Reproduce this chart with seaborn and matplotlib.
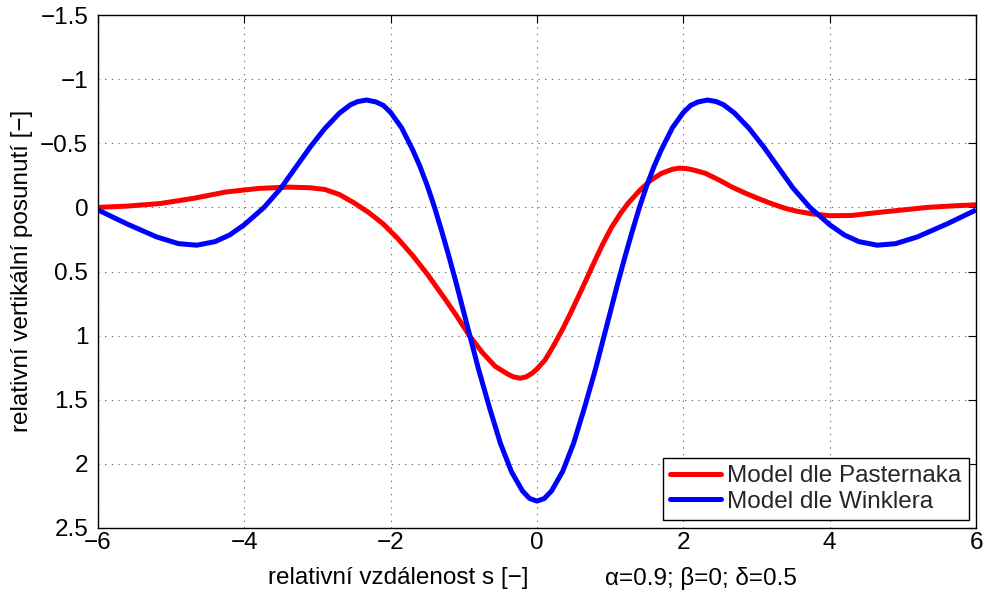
import numpy as np
import pandas as pd
import matplotlib
matplotlib.use("Agg")
import matplotlib.pyplot as plt
import seaborn as sns
from matplotlib.lines import Line2D

# ---- data ----
pasternak_x = [-6.0, -5.6, -5.15, -4.7, -4.25, -3.8, -3.4, -3.1, -2.9, -2.7, -2.5, -2.3,
               -2.1, -1.9, -1.7, -1.5, -1.25, -1.1, -0.93, -0.75, -0.57, -0.4, -0.32, -0.23,
               -0.15, -0.07, 0.0, 0.11, 0.22, 0.34, 0.45, 0.57, 0.7, 0.8, 0.9, 1.02, 1.15,
               1.25, 1.4, 1.55, 1.7, 1.85, 1.95, 2.05, 2.15, 2.3, 2.5, 2.66, 2.85, 3.02, 3.2,
               3.39, 3.55, 3.75, 4.0, 4.3, 4.66, 5.0, 5.34, 5.7, 6.0]
pasternak_y = [0.0, -0.01, -0.03, -0.07, -0.12, -0.148, -0.158, -0.153, -0.14, -0.10, -0.035, 0.04,
               0.13, 0.245, 0.375, 0.52, 0.72, 0.845, 0.995, 1.13, 1.24, 1.30, 1.322, 1.332,
               1.322, 1.295, 1.26, 1.19, 1.085, 0.96, 0.835, 0.69, 0.53, 0.405, 0.285, 0.155, 0.04,
               -0.035, -0.13, -0.21, -0.265, -0.297, -0.306, -0.302, -0.29, -0.266, -0.21, -0.16, -0.11, -0.07, -0.03,
               0.007, 0.03, 0.05, 0.065, 0.063, 0.04, 0.02, 0.0, -0.012, -0.02]

winkler_x = [-6.0, -5.6, -5.2, -4.9, -4.65, -4.4, -4.2, -4.0, -3.73, -3.5, -3.3, -3.1, -2.9,
             -2.7, -2.55, -2.45, -2.33, -2.2, -2.1, -2.0, -1.85, -1.7, -1.6, -1.5, -1.4,
             -1.3, -1.2, -1.1, -0.95, -0.8, -0.65, -0.5, -0.35, -0.2, -0.1, 0.0,
             0.1, 0.2, 0.35, 0.5, 0.65, 0.8, 0.95, 1.1, 1.2, 1.3, 1.4, 1.5, 1.6, 1.7,
             1.85, 2.0, 2.1, 2.2, 2.33, 2.45, 2.55, 2.7, 2.9, 3.1, 3.3, 3.5, 3.73, 4.0,
             4.2, 4.4, 4.65, 4.9, 5.2, 5.6, 6.0]
winkler_y = [0.02, 0.13, 0.23, 0.283, 0.295, 0.267, 0.215, 0.135, 0.0, -0.15, -0.31, -0.47, -0.615,
             -0.735, -0.80, -0.825, -0.837, -0.822, -0.795, -0.74, -0.62, -0.45, -0.32, -0.17, 0.0,
             0.19, 0.39, 0.60, 0.93, 1.26, 1.56, 1.84, 2.06, 2.21, 2.27, 2.29,
             2.27, 2.21, 2.06, 1.84, 1.56, 1.26, 0.93, 0.60, 0.39, 0.19, 0.0, -0.17, -0.32, -0.45,
             -0.62, -0.74, -0.795, -0.822, -0.837, -0.825, -0.80, -0.735, -0.615, -0.47, -0.31, -0.15, 0.0, 0.135,
             0.215, 0.267, 0.295, 0.283, 0.23, 0.13, 0.02]

series_names = ["Model dle Pasternaka", "Model dle Winklera"]
series_colors = ["#ff0000", "#0000ff"]

xtick_values = [-6, -4, -2, 0, 2, 4, 6]
xtick_labels = ["\u22126", "\u22124", "\u22122", "0", "2", "4", "6"]
ytick_values = [-1.5, -1.0, -0.5, 0.0, 0.5, 1.0, 1.5, 2.0, 2.5]
ytick_labels = ["\u22121.5", "\u22121", "\u22120.5", "0", "0.5", "1", "1.5", "2", "2.5"]

xlabel_text = "relativn\u00ed vzd\u00e1lenost s [\u2212]"
params_text = "\u03b1=0.9; \u03b2=0; \u03b4=0.5"
ylabel_text = "relativn\u00ed vertik\u00e1ln\u00ed posunut\u00ed [\u2212]"

df = pd.concat([
    pd.DataFrame({"s": pasternak_x, "w": pasternak_y, "model": series_names[0]}),
    pd.DataFrame({"s": winkler_x, "w": winkler_y, "model": series_names[1]}),
], ignore_index=True)

sns.set_theme(style="white")
plt.rcParams["font.family"] = ["Liberation Sans", "DejaVu Sans"]
plt.rcParams["axes.unicode_minus"] = True

FS = 17.5
fig = plt.figure(figsize=(9.88, 5.91), dpi=100)
ax = fig.add_axes([98 / 988, 1 - 528 / 591, (976 - 98) / 988, (528 - 15) / 591])

sns.lineplot(data=df, x="s", y="w", hue="model", palette=dict(zip(series_names, series_colors)),
             linewidth=3.6, sort=False, estimator=None, ax=ax, legend=False,
             solid_joinstyle="round", solid_capstyle="butt")

ax.set_xlim(-6, 6)
ax.set_ylim(2.5, -1.5)
ax.set_xticks(xtick_values)
ax.set_xticklabels(xtick_labels)
ax.set_yticks(ytick_values)
ax.set_yticklabels(ytick_labels)
ax.tick_params(axis="both", direction="in", length=6, width=0.8, colors="black",
               labelsize=FS, top=True, right=True)
ax.tick_params(axis="y", pad=7)
ax.tick_params(axis="x", pad=3)
ax.grid(True, linestyle=(0, (1, 5)), color="#555555", linewidth=0.8)
for sp in ax.spines.values():
    sp.set_color("black")
    sp.set_linewidth(1.0)
    sp.set_visible(True)

ax.set_xlabel("")
ax.set_ylabel("")

fig.text(22 / 988, 1 - 271 / 591, ylabel_text, fontsize=FS, rotation=90,
         ha="center", va="center", color="black")
fig.text(268 / 988, 1 - 578 / 591, xlabel_text, fontsize=FS, ha="left", va="center", color="black")
fig.text(605 / 988, 1 - 578 / 591, params_text, fontsize=FS, ha="left", va="center", color="black")

handles = [Line2D([0], [0], color=c, lw=3.6) for c in series_colors]
leg = ax.legend(handles, series_names, loc="lower right", fontsize=FS, frameon=True,
                fancybox=False, edgecolor="black", framealpha=1, borderpad=0.3,
                handlelength=2.1, handletextpad=0.25, labelspacing=0.15, borderaxespad=0,
                bbox_to_anchor=(1 - 7 / 878, 8 / 513))
leg.get_frame().set_linewidth(1.0)

fig.savefig("out.png", dpi=100, facecolor="white")
